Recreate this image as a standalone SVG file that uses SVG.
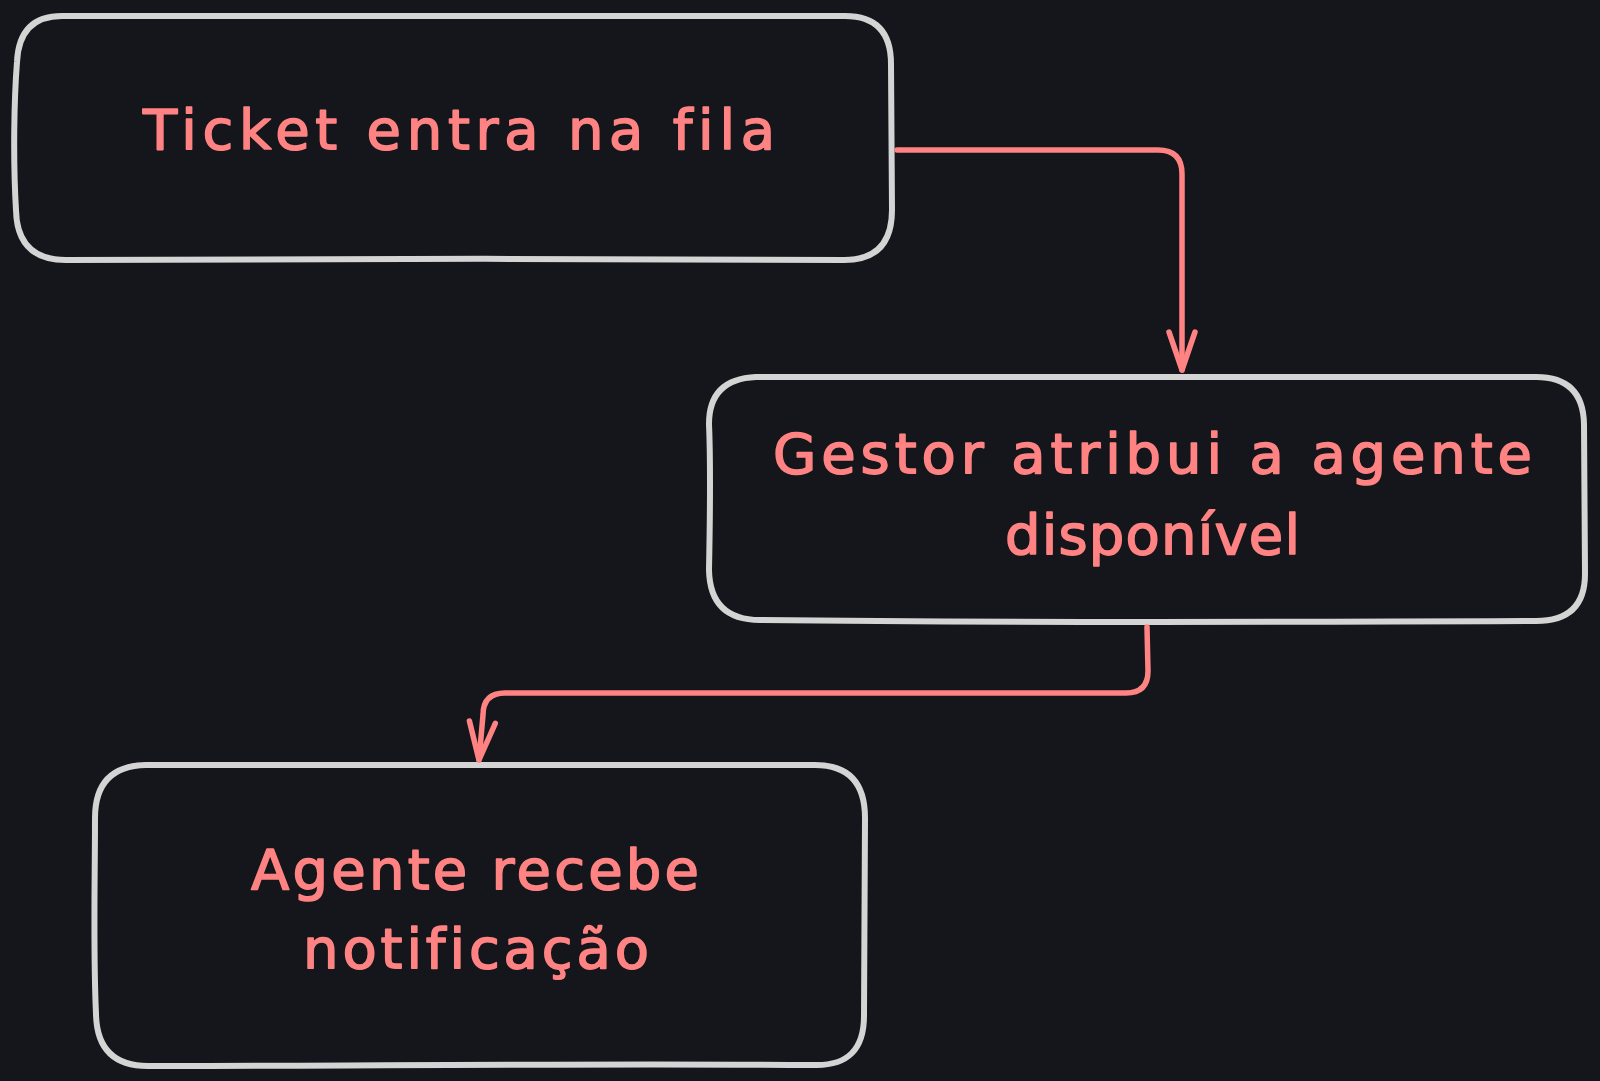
<svg xmlns="http://www.w3.org/2000/svg" width="1600" height="1081" viewBox="0 0 1600 1081">
  <style>
    .box { fill: none; stroke: #d4d4d4; stroke-width: 6; stroke-linejoin: round; stroke-linecap: round; }
    .lbl { fill: #ff8383; stroke: #ff8383; stroke-width: 1.6; stroke-linejoin: round; font-family: "DejaVu Sans", "Liberation Sans", sans-serif; font-size: 56px; font-variant-ligatures: none; }
    .conn { fill: none; stroke: #ff8383; stroke-width: 5.5; stroke-linecap: round; stroke-linejoin: round; }
  </style>
  <defs>
    <marker id="ah" markerUnits="userSpaceOnUse" markerWidth="60" markerHeight="40" viewBox="-50 -20 60 40" refX="0" refY="0" orient="auto" overflow="visible">
      <path d="M-38,-13 L0,0 L-38,13" fill="none" stroke="#ff8383" stroke-width="5.5" stroke-linecap="round" stroke-linejoin="round"/>
    </marker>
  </defs>
  <rect x="0" y="0" width="1600" height="1081" fill="#14161b"/>

  <g id="node-ticket">
    <path class="box" d="M62,16 C300,15 600,17 845,16 Q891,16 891,64 L892,210 Q892,260 844,260 C600,258 300,259 66,260 Q17,260 16,210 C13,160 14,100 17,62 Q19,16 62,16 Z"/>
    <text class="lbl" x="143" y="149" textLength="632" lengthAdjust="spacing">Ticket entra na fila</text>
  </g>

  <g id="node-gestor">
    <path class="box" d="M756,377 C1000,376 1300,378 1536,377 Q1583,377 1584,424 L1585,574 Q1585,621 1536,621 C1300,622 1000,623 760,620 Q710,620 709,570 C710,520 711,470 709,424 Q709,379 756,377 Z"/>
    <text class="lbl" x="773" y="473" textLength="759" lengthAdjust="spacing">Gestor atribui a agente</text>
    <text class="lbl" x="1005" y="554" textLength="295" lengthAdjust="spacing">disponível</text>
  </g>

  <g id="node-agente">
    <path class="box" d="M146,765 C350,764 600,766 815,765 Q865,765 865,818 L864,1016 Q864,1066 815,1065 C600,1063 350,1066 148,1066 Q97,1066 96,1014 C93,950 95,880 95,818 Q95,766 146,765 Z"/>
    <text class="lbl" x="251" y="889" textLength="448" lengthAdjust="spacing">Agente recebe</text>
    <text class="lbl" x="303" y="968" textLength="346" lengthAdjust="spacing">notificação</text>
  </g>

  <g id="connectors">
    <path class="conn" marker-end="url(#ah)" d="M897,150 L1158,150 Q1182,150 1182,174 L1182,370"/>
    <path class="conn" marker-end="url(#ah)" d="M1147,627 L1148,671 Q1148,693 1126,693 L505,693 Q483,693 483,715 L479,760"/>
  </g>
</svg>
